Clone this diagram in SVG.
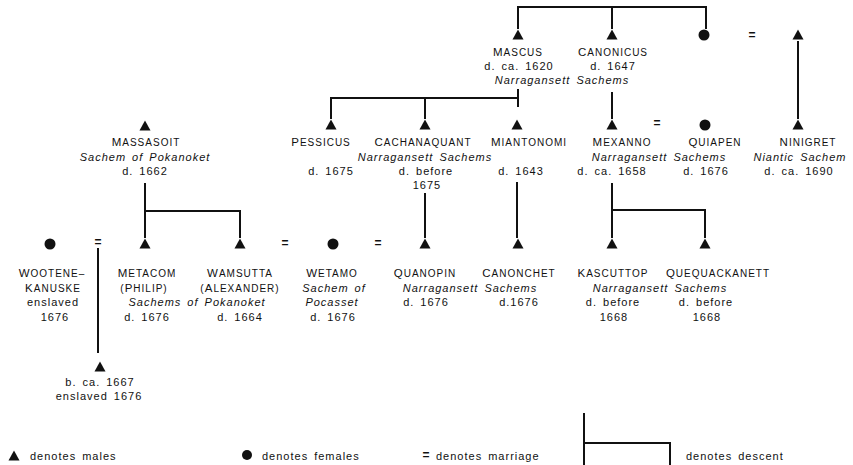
<svg xmlns="http://www.w3.org/2000/svg" width="853" height="465" viewBox="0 0 853 465">
<style>
text{font-family:"Liberation Sans",Arial,Helvetica,sans-serif;fill:#111;letter-spacing:1px;word-spacing:2px;text-anchor:middle}
.n{font-size:10px}
.b{font-size:11.5px}
.t{font-size:11px}
.i{font-size:11px;font-style:italic}
.eq{font-size:12px;font-weight:bold;letter-spacing:0}
.lg{font-size:11px;text-anchor:start}
#connectors path{fill:none;stroke:#111;stroke-width:2}
.f{fill:#111}
</style>
<defs>
<path id="tri" d="M0,-5.5 L5.5,4.5 L-5.5,4.5 Z" fill="#111"/>
</defs>
<rect width="853" height="465" fill="#fff"/>

<g id="connectors">
<path d="M518,29 V7 H706 V29 M612,7 V29"/>
<path d="M798,41 V119"/>
<path d="M331,119 V98 H518 M518,89 V107 M425,98 V119"/>
<path d="M612,92 V119"/>
<path d="M145,183 V238 M145,211 H240 V238"/>
<path d="M425,193 V238"/>
<path d="M517,182 V238"/>
<path d="M612,183 V238 M612,210 H705 V238"/>
<path d="M98,248 V353"/>
</g>

<!-- Row 1 -->
<g id="mascus">
<use href="#tri" x="518" y="35"/>
<text class="n" x="518" y="56"><tspan class="b">M</tspan>ASCUS</text>
<text class="t" x="519" y="70">d. ca. 1620</text>
</g>
<g id="canonicus">
<use href="#tri" x="612" y="35"/>
<text class="n" x="613" y="56"><tspan class="b">C</tspan>ANONICUS</text>
<text class="t" x="613" y="70">d. 1647</text>
</g>
<g id="label-mascus-canonicus">
<text class="i" x="562" y="84">Narragansett Sachems</text>
</g>
<g id="top-mother">
<circle class="f" cx="704" cy="35" r="5.5"/>
</g>
<g id="marriage-top">
<text class="eq" x="752" y="39">=</text>
</g>
<g id="top-father">
<use href="#tri" x="798" y="35"/>
</g>

<!-- Row 2 -->
<g id="massasoit">
<use href="#tri" x="145" y="126"/>
<text class="n" x="146" y="146"><tspan class="b">M</tspan>ASSASOIT</text>
<text class="i" x="145" y="160.5">Sachem of Pokanoket</text>
<text class="t" x="145" y="175">d. 1662</text>
</g>
<g id="pessicus">
<use href="#tri" x="331" y="125"/>
<text class="n" x="321" y="146"><tspan class="b">P</tspan>ESSICUS</text>
<text class="t" x="331" y="175">d. 1675</text>
</g>
<g id="cachanaquant">
<use href="#tri" x="425" y="125"/>
<text class="n" x="423" y="146"><tspan class="b">C</tspan>ACHANAQUANT</text>
<text class="i" x="425" y="160.5">Narragansett Sachems</text>
<text class="t" x="426" y="175">d. before</text>
<text class="t" x="427" y="189">1675</text>
</g>
<g id="miantonomi">
<use href="#tri" x="517" y="125"/>
<text class="n" x="529" y="146"><tspan class="b">M</tspan>IANTONOMI</text>
<text class="t" x="521" y="175">d. 1643</text>
</g>
<g id="mexanno">
<use href="#tri" x="612" y="125"/>
<text class="n" x="622" y="146"><tspan class="b">M</tspan>EXANNO</text>
<text class="t" x="612" y="175">d. ca. 1658</text>
</g>
<g id="marriage-mexanno">
<text class="eq" x="657" y="127">=</text>
</g>
<g id="label-mexanno-quiapen">
<text class="i" x="659" y="160.5">Narragansett Sachems</text>
</g>
<g id="quiapen">
<circle class="f" cx="705" cy="125" r="5.5"/>
<text class="n" x="715" y="146"><tspan class="b">Q</tspan>UIAPEN</text>
<text class="t" x="706" y="175">d. 1676</text>
</g>
<g id="ninigret">
<use href="#tri" x="798" y="125"/>
<text class="n" x="808" y="146"><tspan class="b">N</tspan>INIGRET</text>
<text class="i" x="800" y="160.5">Niantic Sachem</text>
<text class="t" x="799" y="175">d. ca. 1690</text>
</g>

<!-- Row 3 -->
<g id="wootenekanuske">
<circle class="f" cx="50" cy="244" r="5.5"/>
<text class="n" x="52" y="277"><tspan class="b">W</tspan>OOTENE–</text>
<text class="n" x="53" y="292"><tspan class="b">K</tspan>ANUSKE</text>
<text class="t" x="53" y="306">enslaved</text>
<text class="t" x="55" y="321">1676</text>
</g>
<g id="marriage-metacom">
<text class="eq" x="98" y="246">=</text>
</g>
<g id="metacom">
<use href="#tri" x="145" y="244"/>
<text class="n" x="147" y="277"><tspan class="b">M</tspan>ETACOM</text>
<text class="n" x="144" y="292">(<tspan class="b">P</tspan>HILIP)</text>
<text class="t" x="147" y="321">d. 1676</text>
</g>
<g id="label-metacom-wamsutta">
<text class="i" x="197" y="306">Sachems of Pokanoket</text>
</g>
<g id="wamsutta">
<use href="#tri" x="240" y="244"/>
<text class="n" x="240" y="277"><tspan class="b">W</tspan>AMSUTTA</text>
<text class="n" x="240" y="292">(<tspan class="b">A</tspan>LEXANDER)</text>
<text class="t" x="240" y="321">d. 1664</text>
</g>
<g id="marriage-wamsutta">
<text class="eq" x="285" y="247">=</text>
</g>
<g id="wetamo">
<circle class="f" cx="333" cy="244" r="5.5"/>
<text class="n" x="332" y="277"><tspan class="b">W</tspan>ETAMO</text>
<text class="i" x="334" y="292">Sachem of</text>
<text class="i" x="332" y="306">Pocasset</text>
<text class="t" x="333" y="321">d. 1676</text>
</g>
<g id="marriage-wetamo">
<text class="eq" x="378" y="247">=</text>
</g>
<g id="quanopin">
<use href="#tri" x="425" y="244"/>
<text class="n" x="425" y="277"><tspan class="b">Q</tspan>UANOPIN</text>
<text class="t" x="426" y="306">d. 1676</text>
</g>
<g id="label-quanopin-canonchet">
<text class="i" x="470" y="292">Narragansett Sachems</text>
</g>
<g id="canonchet">
<use href="#tri" x="518" y="244"/>
<text class="n" x="519" y="277"><tspan class="b">C</tspan>ANONCHET</text>
<text class="t" x="519" y="306">d.1676</text>
</g>
<g id="kascuttop">
<use href="#tri" x="612" y="244"/>
<text class="n" x="613" y="277"><tspan class="b">K</tspan>ASCUTTOP</text>
<text class="t" x="613" y="306">d. before</text>
<text class="t" x="614" y="321">1668</text>
</g>
<g id="label-kascuttop-quequackanett">
<text class="i" x="660" y="292">Narragansett Sachems</text>
</g>
<g id="quequackanett">
<use href="#tri" x="705" y="244"/>
<text class="n" x="718" y="277"><tspan class="b">Q</tspan>UEQUACKANETT</text>
<text class="t" x="706" y="306">d. before</text>
<text class="t" x="707" y="321">1668</text>
</g>
<g id="child">
<use href="#tri" x="100" y="367"/>
<text class="t" x="100" y="386">b. ca. 1667</text>
<text class="t" x="99" y="400">enslaved 1676</text>
</g>

<!-- Legend -->
<g id="legend">
<use href="#tri" x="14" y="456"/>
<text class="lg" x="30" y="460">denotes males</text>
<circle class="f" cx="247" cy="455" r="5"/>
<text class="lg" x="262" y="460">denotes females</text>
<text class="eq" x="426" y="459">=</text>
<text class="lg" x="436" y="460">denotes marriage</text>
<path d="M584,413 V465 M584,443 H670 V465" fill="none" stroke="#111" stroke-width="2"/>
<text class="lg" x="686" y="460">denotes descent</text>
</g>
</svg>
